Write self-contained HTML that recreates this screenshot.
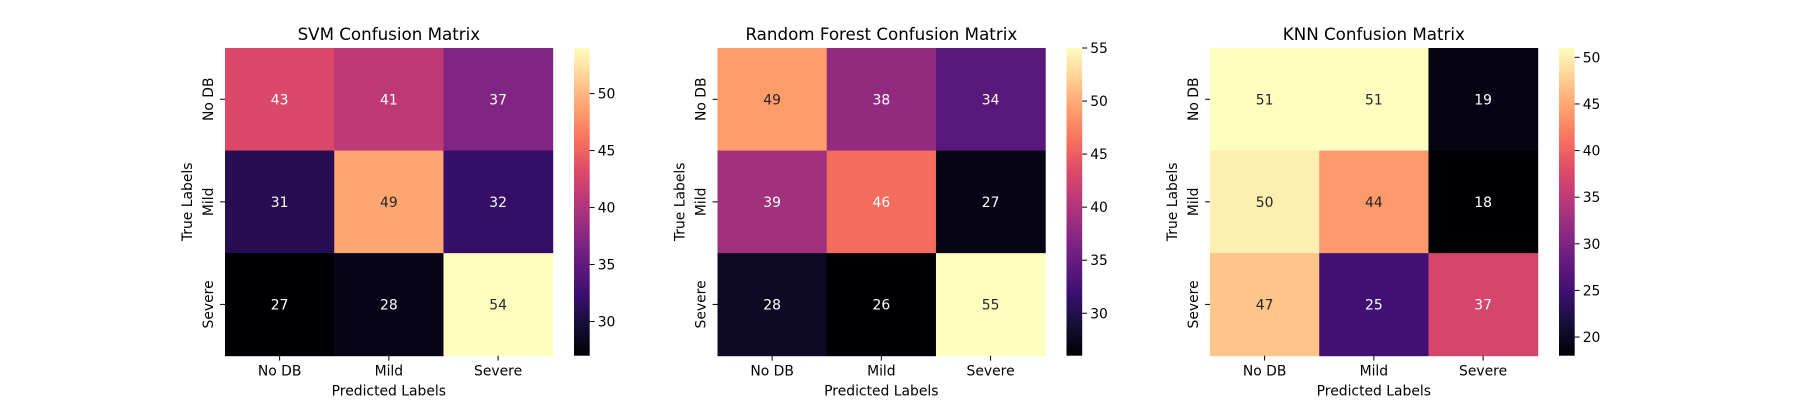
<!DOCTYPE html>
<html><head><meta charset="utf-8">
<style>
html,body{margin:0;padding:0;background:#fff;}
svg{display:block;font-family:"DejaVu Sans","Liberation Sans",sans-serif;}
</style></head>
<body>
<svg id="fig" width="1800" height="400" viewBox="0 0 1800 400" xmlns="http://www.w3.org/2000/svg"></svg>
<script>
const classLabels = ["No DB", "Mild", "Severe"];
const chartTitles = ["SVM Confusion Matrix", "Random Forest Confusion Matrix", "KNN Confusion Matrix"];
const svmValues = [[43, 41, 37], [31, 49, 32], [27, 28, 54]];
const rfValues = [[49, 38, 34], [39, 46, 27], [28, 26, 55]];
const knnValues = [[51, 51, 19], [50, 44, 18], [47, 25, 37]];
const svmTicks = [30, 35, 40, 45, 50];
const rfTicks = [30, 35, 40, 45, 50, 55];
const knnTicks = [20, 25, 30, 35, 40, 45, 50];
const allValues = [svmValues, rfValues, knnValues];
const allTicks = [svmTicks, rfTicks, knnTicks];

const magma = ["#000004","#140e36","#3b0f70","#641a80","#8c2981","#b73779","#de4968","#f7705c","#fe9f6d","#fecf92","#fcfdbf"];
function hex(h){return [1,3,5].map(i=>parseInt(h.substr(i,2),16));}
function cmap(t){
  t=Math.max(0,Math.min(1,t));
  const p=t*(magma.length-1), i=Math.min(Math.floor(p),magma.length-2), f=p-i;
  const a=hex(magma[i]), b=hex(magma[i+1]);
  return a.map((v,k)=>Math.round(v+(b[k]-v)*f));
}
function lum(c){
  const r=c.map(v=>{v/=255;return v<=0.03928?v/12.92:Math.pow((v+0.055)/1.055,2.4);});
  return 0.2126*r[0]+0.7152*r[1]+0.0722*r[2];
}
const NS="http://www.w3.org/2000/svg";
const svg=document.getElementById('fig');
function el(tag,attrs,parent,text){
  const e=document.createElementNS(NS,tag);
  for(const k in attrs)e.setAttribute(k,attrs[k]);
  if(text!==undefined)e.textContent=text;
  (parent||svg).appendChild(e);return e;
}
const W=327.7,H=307.7,TOP=48,SPACING=492.5,LEFT0=225;
allValues.forEach((vals,pi)=>{
  const L=LEFT0+pi*SPACING;
  const flat=vals.flat(), vmin=Math.min(...flat), vmax=Math.max(...flat);
  const g=el('g',{});
  
  
  const cw=W/3, ch=H/3;
  const xPos=j=>L+j*cw, yPos=i=>TOP+i*ch;
  const valT=v=>(v-vmin)/(vmax-vmin);
  vals.forEach((row,i)=>row.forEach((v,j)=>{
    const c=cmap(valT(v));
    const r=el('rect',{x:xPos(j),y:yPos(i),width:cw+0.5,height:ch+0.5,fill:`rgb(${c})`},g);
    
    
    const t=el('text',{x:xPos(j)+cw/2,y:yPos(i)+ch/2+5,'text-anchor':'middle','font-size':'13.9',fill:lum(c)>0.408?'#262626':'#ffffff'},g,String(v));
    
    
  }));
  // title
  const ti=el('text',{x:L+W/2,y:TOP-8,'text-anchor':'middle','font-size':'16.7',fill:'#000'},g,chartTitles[pi]);
  
  
  classLabels.forEach((lab,k)=>{
    const cx=xPos(k)+cw/2;
    el('line',{x1:cx,x2:cx,y1:TOP+H,y2:TOP+H+4.9,stroke:'#000','stroke-width':1},g);
    const xt=el('text',{x:cx,y:TOP+H+20,'text-anchor':'middle','font-size':'13.9',fill:'#000'},g,lab);
    
    
    const cy=yPos(k)+ch/2;
    el('line',{x1:L-4.9,x2:L,y1:cy,y2:cy,stroke:'#000','stroke-width':1},g);
    const yt=el('text',{x:0,y:0,'text-anchor':'middle','font-size':'13.9',fill:'#000',transform:`translate(${L-12},${cy}) rotate(-90)`},g,lab);
    
    
  });
  const xl=el('text',{x:L+W/2,y:TOP+H+40,'text-anchor':'middle','font-size':'13.9',fill:'#000'},g,'Predicted Labels');
  
  
  const yl=el('text',{x:0,y:0,'text-anchor':'middle','font-size':'13.9',fill:'#000',transform:`translate(${L-33},${TOP+H/2}) rotate(-90)`},g,'True Labels');
  
  
  // colorbar
  const CX=L+W+21.3, CW=15.7;
  const gid='grad'+pi;
  const defs=el('defs',{},g);
  const lg=el('linearGradient',{id:gid,x1:0,y1:1,x2:0,y2:0},defs);
  for(let s=0;s<=20;s++){const c=cmap(s/20);el('stop',{offset:s/20,'stop-color':`rgb(${c})`},lg);}
  const cb=el('rect',{x:CX,y:TOP,width:CW,height:H,fill:`url(#${gid})`},g);
  
  
  const cbY=v=>TOP+H-(v-vmin)/(vmax-vmin)*H;
  allTicks[pi].forEach(tv=>{
    const y=cbY(tv);
    el('line',{x1:CX+CW,x2:CX+CW+4.9,y1:y,y2:y,stroke:'#000','stroke-width':1},g);
    const ct=el('text',{x:CX+CW+8,y:y+5,'font-size':'13.9',fill:'#000'},g,String(tv));
    
    
  });
});
</script>
</body></html>
